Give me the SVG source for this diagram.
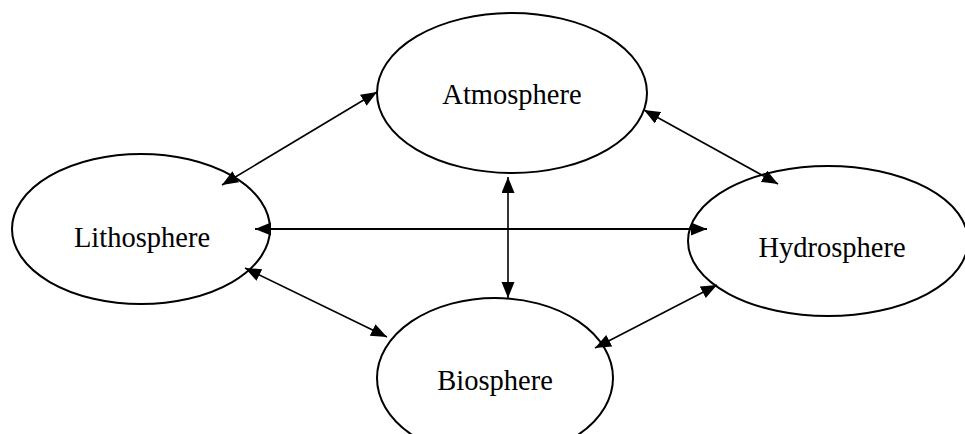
<svg xmlns="http://www.w3.org/2000/svg" width="965" height="434" viewBox="0 0 965 434">
<style>
.node ellipse{fill:#fff;stroke:#000;stroke-width:2}
.node text{font-family:"Liberation Serif","Times New Roman",serif;font-size:28.5px;fill:#000;text-anchor:middle}
#connectors line{stroke:#000;stroke-width:1.6;marker-start:url(#ah);marker-end:url(#ah)}
#connectors line.thick{stroke-width:2}
</style>
<defs>
<marker id="ah" markerUnits="userSpaceOnUse" markerWidth="17" markerHeight="14" refX="16" refY="6.5" orient="auto-start-reverse">
<path d="M0,0 L16,6.5 L0,13 z" fill="#000"/>
</marker>
</defs>
<rect width="965" height="434" fill="#fff"/>
<g id="atmosphere" class="node"><ellipse cx="512" cy="93" rx="135" ry="80"/><text x="512" y="104">Atmosphere</text></g>
<g id="lithosphere" class="node"><ellipse cx="141" cy="229" rx="129" ry="75"/><text x="142" y="247">Lithosphere</text></g>
<g id="hydrosphere" class="node"><ellipse cx="828" cy="241" rx="140" ry="75"/><text x="832" y="257">Hydrosphere</text></g>
<g id="biosphere" class="node"><ellipse cx="495" cy="378" rx="118" ry="80"/><text x="495" y="390">Biosphere</text></g>
<g id="connectors">
<line x1="222" y1="185" x2="377" y2="92"/>
<line x1="644" y1="110" x2="778" y2="184"/>
<line class="thick" x1="255" y1="229" x2="707" y2="229"/>
<line x1="508" y1="177" x2="508" y2="298"/>
<line x1="245" y1="268" x2="387" y2="337"/>
<line x1="595" y1="348" x2="717" y2="285"/>
</g>
</svg>
